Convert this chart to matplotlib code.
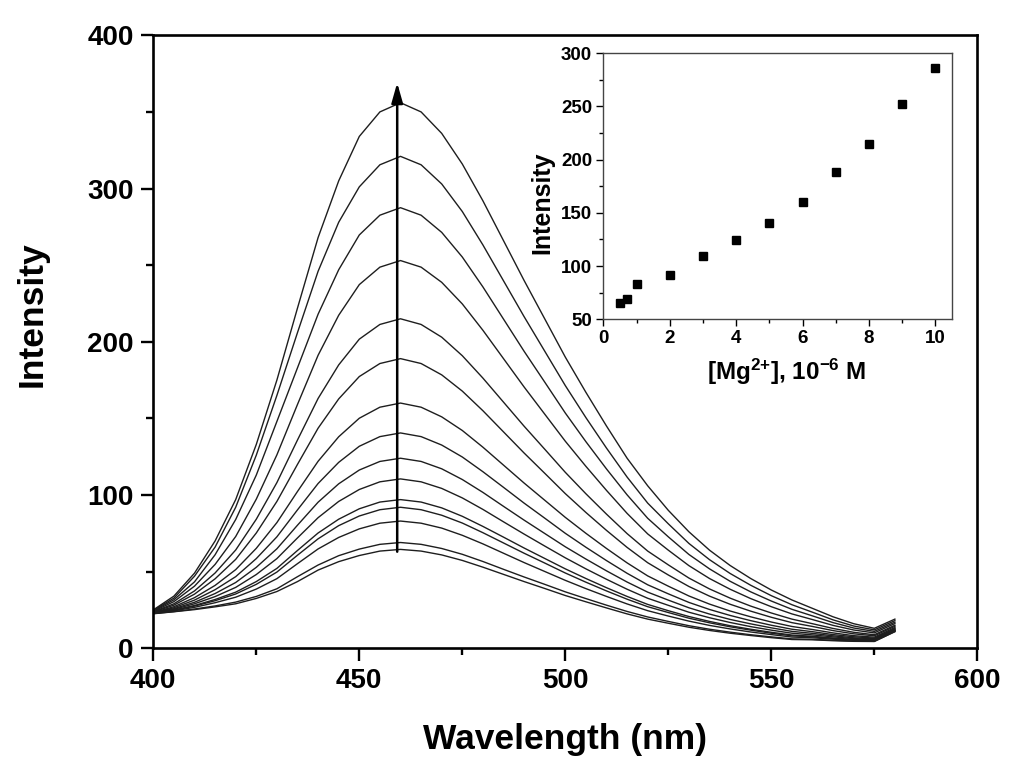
import matplotlib
matplotlib.use("Agg")
import matplotlib.pyplot as plt
from matplotlib.ticker import MultipleLocator

plt.rcParams['font.family'] = ['Liberation Sans', 'DejaVu Sans']
plt.rcParams['font.weight'] = 'bold'
plt.rcParams['mathtext.fontset'] = 'custom'
plt.rcParams['mathtext.rm'] = 'Liberation Sans:bold'
plt.rcParams['mathtext.it'] = 'Liberation Sans:bold'
plt.rcParams['mathtext.bf'] = 'Liberation Sans:bold'
plt.rcParams['mathtext.default'] = 'rm'

# ---------------- data ----------------
wavelength = [400, 405, 410, 415, 420, 425, 430, 435, 440, 445,
              450, 455, 460, 465, 470, 475, 480, 485, 490, 495,
              500, 505, 510, 515, 520, 525, 530, 535, 540, 545,
              550, 555, 560, 565, 570, 575, 580]

spec_01 = [25, 34, 49, 70, 97, 133, 175, 222, 268, 305,
           334, 350, 356, 350, 336, 316, 292, 266, 240, 215,
           190, 167, 145, 124, 106, 90, 76, 64, 54, 45.5,
           38, 31.5, 26, 20.5, 16, 13, 19]
spec_02 = [24.7, 32.7, 47, 66, 92, 126, 165, 206, 246, 278,
           301.1, 315.5, 321, 315.5, 303, 285, 263.2, 239.8, 216.4, 193.9,
           171.4, 150.5, 130.6, 111.7, 94.7, 81.2, 68.4, 57.8, 48.8, 41.1,
           34.3, 28.4, 23.5, 18.5, 14.5, 12, 18]
spec_03 = [24.4, 31.6, 43.3, 61, 84, 113, 148, 183, 218, 247,
           269.7, 282.6, 287.5, 282.6, 271.4, 255.3, 235.8, 214.8, 193.8, 173.7,
           153.5, 134.8, 117, 100.1, 84.8, 72.7, 61.2, 51.8, 43.7, 36.8,
           30.8, 25.4, 21.1, 16.7, 13.2, 11, 17]
spec_04 = [24.1, 30.4, 40.5, 54.7, 72.9, 97.3, 126.2, 159.1, 191.2, 217.3,
           237.3, 248.7, 253, 248.7, 238.8, 224.7, 207.5, 189, 170.5, 152.8,
           135.1, 118.7, 103, 88, 74.6, 64, 53.9, 45.5, 38.5, 32.4,
           27.1, 22.4, 18.7, 14.9, 11.9, 10, 16.1]
spec_05 = [23.8, 29, 37.4, 49.1, 64.1, 84.2, 108.1, 135.9, 163, 184.9,
           201.7, 211.3, 215, 211.3, 203, 190.9, 176.3, 160.6, 144.9, 129.9,
           114.8, 100.8, 87.5, 74.8, 63.4, 54.4, 45.8, 38.7, 32.7, 27.5,
           23, 19, 16, 12.9, 10.4, 8.8, 15]
spec_06 = [23.6, 28.1, 35.3, 45.3, 58, 75.2, 95.8, 120, 143.6, 162.7,
           177.3, 185.8, 189, 185.8, 178.4, 167.8, 155, 141.2, 127.4, 114.2,
           100.9, 88.6, 76.9, 65.8, 55.8, 47.8, 40.3, 34, 28.7, 24.2,
           20.2, 16.7, 14.2, 11.5, 9.4, 8.1, 14.3]
spec_07 = [23.3, 27.1, 33, 41, 51.3, 65.2, 82, 102.3, 122, 138,
           150.1, 157.3, 160, 157.3, 151, 142.1, 131.2, 119.5, 107.8, 96.6,
           85.4, 75, 65.1, 55.7, 47.2, 40.5, 34.1, 28.8, 24.3, 20.5,
           17.1, 14.2, 12.2, 10, 8.2, 7.2, 13.5]
spec_08 = [23.2, 26.4, 31.4, 38.2, 46.7, 58.5, 72.7, 90.3, 107.5, 121.3,
           131.8, 138.1, 140.5, 138.1, 132.6, 124.8, 115.2, 105, 94.7, 84.9,
           75, 65.9, 57.2, 48.9, 41.4, 35.5, 29.9, 25.3, 21.4, 18,
           15, 12.4, 10.8, 8.9, 7.5, 6.6, 12.9]
spec_09 = [23, 25.8, 30, 35.7, 42.9, 52.8, 64.9, 80.3, 95.3, 107.3,
           116.3, 121.9, 124, 121.9, 117.1, 110.1, 101.7, 92.6, 83.6, 74.9,
           66.2, 58.2, 50.5, 43.2, 36.6, 31.4, 26.4, 22.3, 18.8, 15.9,
           13.3, 11, 9.7, 8.1, 6.8, 6.2, 12.5]
spec_10 = [22.9, 25.4, 29, 33.7, 39.7, 48.1, 58.5, 72, 85.2, 95.8,
           103.6, 108.6, 110.5, 108.6, 104.3, 98.1, 90.6, 82.5, 74.5, 66.7,
           59, 51.8, 45, 38.5, 32.6, 28, 23.5, 19.9, 16.8, 14.1,
           11.8, 9.8, 8.7, 7.4, 6.3, 5.8, 12.1]
spec_11 = [22.8, 24.9, 27.9, 31.8, 36.6, 43.5, 52.1, 63.8, 75.2, 84.2,
           91, 95.4, 97, 95.4, 91.6, 86.1, 79.5, 72.5, 65.4, 58.6,
           51.8, 45.5, 39.5, 33.8, 28.6, 24.5, 20.7, 17.5, 14.7, 12.4,
           10.4, 8.6, 7.8, 6.6, 5.8, 5.4, 11.7]
spec_12 = [22.8, 24.7, 27.5, 31, 35.4, 41.7, 49.7, 60.7, 71.4, 80,
           86.3, 90.4, 92, 90.4, 86.8, 81.7, 75.4, 68.7, 62, 55.6,
           49.1, 43.1, 37.4, 32, 27.1, 23.3, 19.6, 16.6, 14, 11.8,
           9.8, 8.1, 7.4, 6.4, 5.6, 5.2, 11.6]
spec_13 = [22.7, 24.4, 26.7, 29.7, 33.3, 38.6, 45.4, 55.2, 64.8, 72.3,
           77.9, 81.6, 83, 81.6, 78.4, 73.7, 68.1, 62, 55.9, 50.1,
           44.3, 38.9, 33.8, 28.9, 24.5, 21, 17.7, 14.9, 12.6, 10.6,
           8.9, 7.3, 6.8, 5.9, 5.2, 4.9, 11.3]
spec_14 = [22.6, 23.9, 25.6, 27.6, 30.1, 33.8, 38.8, 46.7, 54.3, 60.4,
           64.7, 67.8, 69, 67.8, 65.1, 61.3, 56.6, 51.5, 46.5, 41.7,
           36.8, 32.4, 28.1, 24, 20.4, 17.5, 14.7, 12.4, 10.5, 8.8,
           7.4, 6.1, 5.8, 5.2, 4.7, 4.5, 10.9]
spec_15 = [22.5, 23.8, 25.2, 27, 29, 32.5, 37, 43.5, 51, 56.5,
           60.5, 63.4, 64.5, 63.4, 60.9, 57.3, 52.9, 48.2, 43.5, 39,
           34.4, 30.3, 26.3, 22.4, 19, 16.3, 13.7, 11.6, 9.8, 8.3,
           6.9, 5.7, 5.5, 4.9, 4.5, 4.4, 10.8]

spectra = [spec_01, spec_02, spec_03, spec_04, spec_05, spec_06, spec_07, spec_08,
           spec_09, spec_10, spec_11, spec_12, spec_13, spec_14, spec_15]

arrow_wavelength = 459.2
arrow_start = 63.0
arrow_end = 369.0

mg_conc = [0.5, 0.7, 1, 2, 3, 4, 5, 6, 7, 8, 9, 10]
mg_intensity = [65.6, 69.0, 82.8, 91.3, 109.7, 124.4, 140.3, 160.0, 188.8, 215.0, 252.2, 286.0]

# ---------------- figure ----------------
fig = plt.figure(figsize=(10.24, 7.81), dpi=100)
ax = fig.add_axes([0.1497, 0.170, 0.8047, 0.7848])

for s in spectra:
    ax.plot(wavelength, s, color='#1e1e1e', lw=1.0)

ax.annotate('', xy=(arrow_wavelength, arrow_end), xytext=(arrow_wavelength, arrow_start),
            arrowprops=dict(arrowstyle='-|>,head_length=0.6,head_width=0.17', lw=1.8,
                            color='black', mutation_scale=20, shrinkA=0, shrinkB=0))

ax.set_xlim(400, 600)
ax.set_ylim(0, 400)
ax.xaxis.set_major_locator(MultipleLocator(50))
ax.xaxis.set_minor_locator(MultipleLocator(25))
ax.yaxis.set_major_locator(MultipleLocator(100))
ax.yaxis.set_minor_locator(MultipleLocator(50))
ax.tick_params(which='major', direction='out', length=9, width=1.7, labelsize=20, pad=5)
ax.tick_params(which='minor', direction='out', length=5, width=1.7)
for sp in ax.spines.values():
    sp.set_linewidth(1.9)
for lab in ax.get_xticklabels() + ax.get_yticklabels():
    lab.set_fontweight('bold')
ax.set_xlabel('Wavelength (nm)', fontsize=25.5, fontweight='bold', labelpad=21)
ax.set_ylabel('Intensity', fontsize=25.5, fontweight='bold')
ax.yaxis.set_label_coords(-0.127, 0.545)

# ---------------- inset ----------------
ins = fig.add_axes([0.5892, 0.5912, 0.3405, 0.3406])
ins.plot(mg_conc, mg_intensity, linestyle='none', marker='s', markersize=5.2,
         color='black')
ins.set_xlim(0, 10.5)
ins.set_ylim(50, 300)
ins.xaxis.set_major_locator(MultipleLocator(2))
ins.xaxis.set_minor_locator(MultipleLocator(1))
ins.yaxis.set_major_locator(MultipleLocator(50))
ins.yaxis.set_minor_locator(MultipleLocator(25))
ins.tick_params(which='major', direction='out', length=5, width=1.0, labelsize=13.5, pad=3)
ins.tick_params(which='minor', direction='out', length=3, width=1.0)
for sp in ins.spines.values():
    sp.set_linewidth(1.0)
    sp.set_color('#444444')
for lab in ins.get_xticklabels() + ins.get_yticklabels():
    lab.set_fontweight('bold')
ins.set_ylabel('Intensity', fontsize=18, fontweight='bold')
ins.yaxis.set_label_coords(-0.140, 0.437)
ins.set_xlabel(r'[Mg$^{2{+}}$], 10$^{-6}$ M', fontsize=17.5, fontweight='bold', labelpad=11)
ins.xaxis.set_label_coords(0.527, -0.14)
ins.xaxis.label.set_va('top')

fig.savefig('out.png', dpi=100, facecolor='white')
